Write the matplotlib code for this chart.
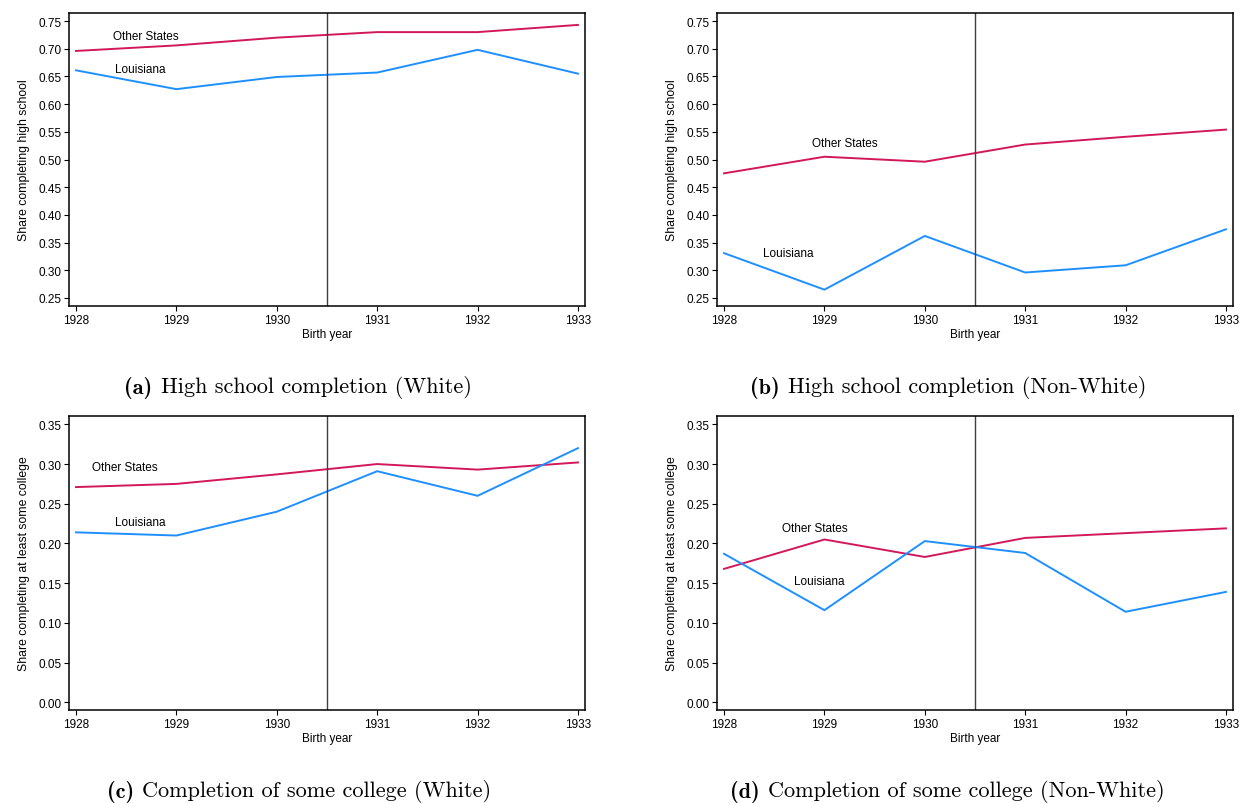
#!/usr/bin/env python3

import matplotlib as mpl
mpl.use('Agg')
import matplotlib.pyplot as plt

## Data
years = [1928, 1929, 1930, 1931, 1932, 1933]

hs_white_other = [0.696, 0.706, 0.720, 0.730, 0.730, 0.743]
hs_white_la    = [0.661, 0.627, 0.649, 0.657, 0.698, 0.655]

hs_nonwhite_other = [0.475, 0.505, 0.496, 0.527, 0.541, 0.554]
hs_nonwhite_la    = [0.331, 0.265, 0.362, 0.296, 0.309, 0.374]

col_white_other = [0.271, 0.275, 0.287, 0.300, 0.293, 0.302]
col_white_la    = [0.214, 0.210, 0.240, 0.291, 0.260, 0.320]

col_nonwhite_other = [0.168, 0.205, 0.183, 0.207, 0.213, 0.219]
col_nonwhite_la    = [0.187, 0.116, 0.203, 0.188, 0.114, 0.139]

hs_ticks  = [0.25, 0.30, 0.35, 0.40, 0.45, 0.50, 0.55, 0.60, 0.65, 0.70, 0.75]
col_ticks = [0.00, 0.05, 0.10, 0.15, 0.20, 0.25, 0.30, 0.35]

captions = [('(a)', 'High school completion (White)'),
            ('(b)', 'High school completion (Non-White)'),
            ('(c)', 'Completion of some college (White)'),
            ('(d)', 'Completion of some college (Non-White)')]

# label positions (x, y) for "Other States" and "Louisiana"
label_pos = [((1928.70, 0.7225), (1928.64, 0.663)),
             ((1929.20, 0.530), (1928.64, 0.331)),
             ((1928.49, 0.296), (1928.64, 0.227)),
             ((1928.90, 0.219), (1928.95, 0.153))]

red  = '#d2185a'
blue = '#1e8fff'

plt.rcParams['font.family'] = ['Liberation Sans', 'DejaVu Sans']

W, H = 1242, 804
fig = plt.figure(figsize = (W / 100, H / 100), dpi = 100)

def axes_rect(left, top, right, bottom):
  return [left / W, 1 - bottom / H, (right - left) / W, (bottom - top) / H]

rects = [axes_rect(69, 14, 585, 307),
         axes_rect(717, 14, 1233, 307),
         axes_rect(69, 417, 585, 711),
         axes_rect(717, 417, 1233, 711)]

series = [(hs_white_other, hs_white_la),
          (hs_nonwhite_other, hs_nonwhite_la),
          (col_white_other, col_white_la),
          (col_nonwhite_other, col_nonwhite_la)]

caption_y = [388, 388, 792, 792]
caption_x = [298, 948, 299, 947]

renderer = fig.canvas.get_renderer()

for idx in range(4):
  ax = fig.add_axes(rects[idx])
  other, la = series[idx]
  ax.plot(years, other, color = red, lw = 1.4)
  ax.plot(years, la, color = blue, lw = 1.4)
  ax.axvline(1930.5, color = '#404040', lw = 1.0)

  (ox, oy), (lx, ly) = label_pos[idx]
  ax.text(ox, oy, 'Other States', ha = 'center', va = 'center', fontsize = 8.5)
  ax.text(lx, ly, 'Louisiana', ha = 'center', va = 'center', fontsize = 8.5)

  ax.set_xlim(1928 - 0.07, 1933 + 0.07)
  ax.set_xticks(years)
  ax.set_xticklabels([str(y) for y in years])
  if idx < 2:
    ax.set_ylim(0.2355, 0.7645)
    ax.set_yticks(hs_ticks)
    ax.set_yticklabels(['{:.2f}'.format(t) for t in hs_ticks])
    ax.set_ylabel('Share completing high school', fontsize = 8.8, labelpad = 6)
  else:
    ax.set_ylim(-0.0097, 0.3605)
    ax.set_yticks(col_ticks)
    ax.set_yticklabels(['{:.2f}'.format(t) for t in col_ticks])
    ax.set_ylabel('Share completing at least some college', fontsize = 8.8, labelpad = 6)
  ax.set_xlabel('Birth year', fontsize = 8.5, labelpad = 2)
  ax.tick_params(labelsize = 8.5, length = 3.5, width = 0.8, pad = 2)
  for spine in ax.spines.values():
    spine.set_linewidth(1.1)

  # caption below each panel: bold label then roman text, centred as a group
  lab, txt = captions[idx]
  yc = 1 - caption_y[idx] / H
  t1 = fig.text(0, yc, lab, ha = 'left', va = 'center', fontsize = 16, family = 'cmb10')
  t2 = fig.text(0, yc, txt, ha = 'left', va = 'center', fontsize = 16, family = 'cmr10')
  w1 = t1.get_window_extent(renderer).width
  w2 = t2.get_window_extent(renderer).width
  gap = 8
  x0 = caption_x[idx] - (w1 + gap + w2) / 2
  t1.set_x(x0 / W)
  t2.set_x((x0 + w1 + gap) / W)

fig.savefig('out.png', dpi = 100)
